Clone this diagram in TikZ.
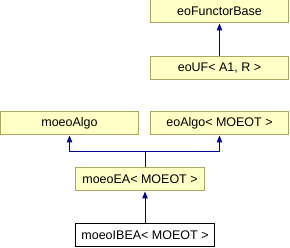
\documentclass[tikz,border=0pt]{standalone}
\usepackage{fontspec}
\setmainfont{Liberation Sans}
\usetikzlibrary{arrows.meta}
\definecolor{boxfill}{RGB}{255,255,198}
\definecolor{boxline}{RGB}{168,168,96}
\definecolor{arrcol}{RGB}{0,0,150}
\begin{document}
\begin{tikzpicture}[x=1pt,y=-1pt,
  cls/.style={draw=boxline,fill=boxfill,line width=1pt,minimum height=23pt,inner sep=0pt,font=\fontsize{12.5}{14}\selectfont},
  cur/.style={draw=black,fill=white,line width=1pt,minimum height=23pt,inner sep=0pt,font=\fontsize{12.5}{14}\selectfont},
  arr/.style={draw=arrcol,line width=1pt,-{Stealth[length=7pt,width=5.5pt,inset=0pt]}}]
\useasboundingbox (0,0) rectangle (290,248);
\node[cls,minimum width=138pt] (base) at (219.5,11.5) {eoFunctorBase};
\node[cls,minimum width=138pt] (uf) at (219.5,68) {eoUF< A1, R >};
\node[cls,minimum width=138pt] (malgo) at (69.5,123.5) {moeoAlgo};
\node[cls,minimum width=138pt] (ealgo) at (219.5,123.5) {eoAlgo< MOEOT >};
\node[cls,minimum width=129pt] (mea) at (140,179.5) {moeoEA< MOEOT >};
\node[cur,minimum width=139pt] (ibea) at (145,235.5) {moeoIBEA< MOEOT >};
\coordinate (j) at (145,152);
\draw[arr] (uf.north) -- (base.south);
\draw[arr] (ibea.north) -- (ibea.north |- mea.south);
\draw[arr] (mea.north -| ibea.north) -- (j) -| (malgo.south);
\draw[arr] (j) -| (ealgo.south);
\end{tikzpicture}
\end{document}
